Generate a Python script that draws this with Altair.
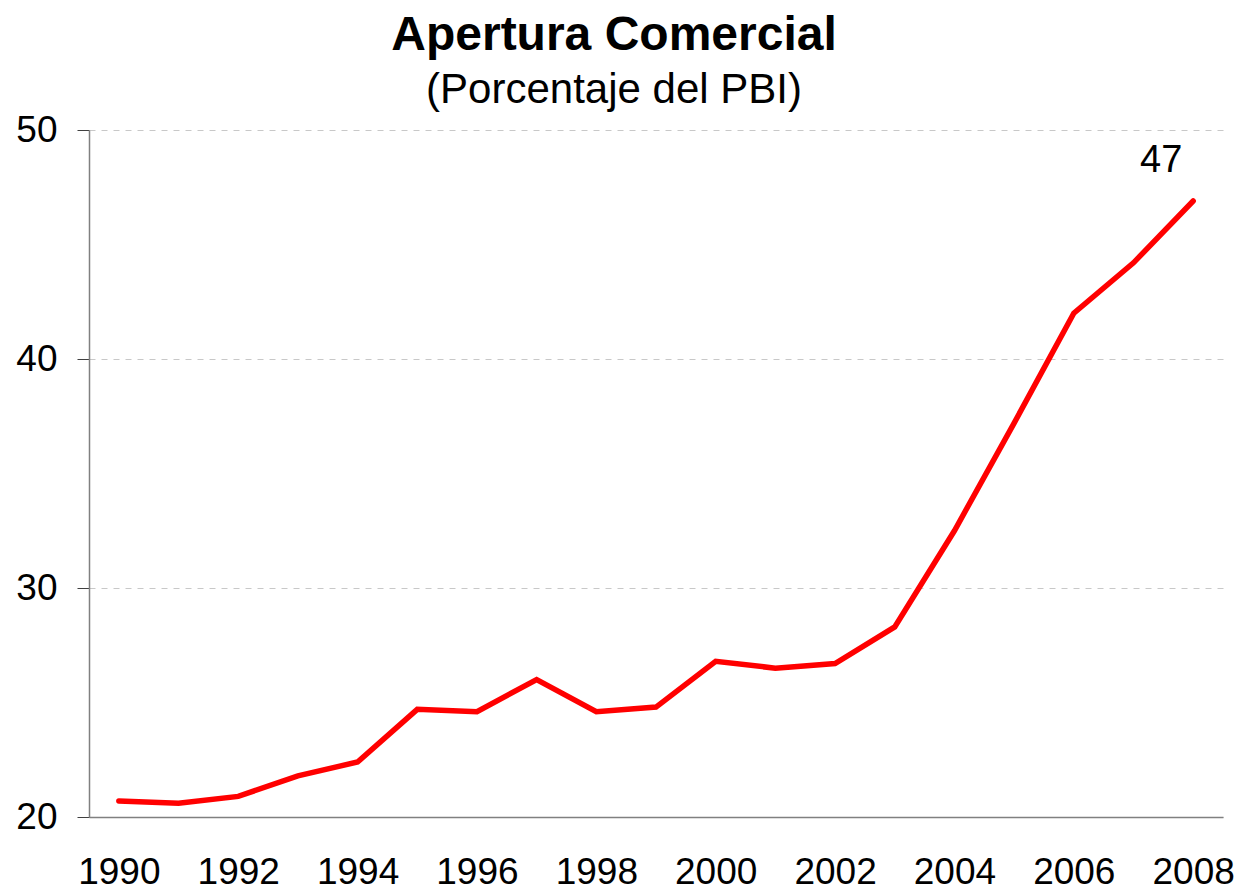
import altair as alt
import pandas as pd

years = [str(y) for y in range(1990, 2009)]
values = [20.7, 20.6, 20.9, 21.8, 22.4, 24.7, 24.6, 26.0, 24.6, 24.8,
          26.8, 26.5, 26.7, 28.3, 32.5, 37.2, 42.0, 44.2, 46.9]
x_labels = [str(y) for y in range(1990, 2009, 2)]
last_label = ["47"]

df = pd.DataFrame({"year": years, "value": values})
df_lab = pd.DataFrame({"year": [years[-1]], "value": [values[-1]], "label": last_label})

FONT = "Liberation Sans"

x = alt.X("year:O", scale=alt.Scale(type="point", padding=0.5),
          axis=alt.Axis(title=None, values=x_labels, labelAngle=0, ticks=False,
                        labelFontSize=37, labelFont=FONT, labelColor="black",
                        labelPadding=37, domainColor="#808080", domainWidth=1.5,
                        grid=False))
y = alt.Y("value:Q", scale=alt.Scale(domain=[20, 50], nice=False, zero=False),
          axis=alt.Axis(title=None, values=[20, 30, 40, 50], tickSize=12,
                        tickColor="#404040", labelFontSize=37, labelFont=FONT,
                        labelColor="black", labelPadding=20, domainColor="#808080",
                        domainWidth=1.5, grid=True, gridColor="#c8c8c8",
                        gridDash=[6, 6], gridWidth=1))

line = alt.Chart(df).mark_line(color="#FF0000", strokeWidth=5.5, strokeCap="round").encode(x=x, y=y)
text = alt.Chart(df_lab).mark_text(fontSize=38, font=FONT, color="black", dx=-32, dy=-40).encode(
    x=alt.X("year:O"), y=alt.Y("value:Q"), text="label:N")

chart = alt.layer(line, text).properties(
    width=1134, height=687,
    title=alt.TitleParams(text="Apertura Comercial", subtitle="(Porcentaje del PBI)",
                          fontSize=48, font=FONT, fontWeight="bold", color="black",
                          subtitleFontSize=42, subtitleFont=FONT, subtitleColor="black",
                          subtitlePadding=10, anchor="middle", dx=-42, offset=0),
    autosize=alt.AutoSizeParams(type="none"),
    padding={"left": 81, "top": 122, "right": 12, "bottom": 74},
).configure_view(stroke=None).configure_axis(gridOpacity=1)

chart.save("out.html", embed_options={"renderer": "svg", "actions": False})
